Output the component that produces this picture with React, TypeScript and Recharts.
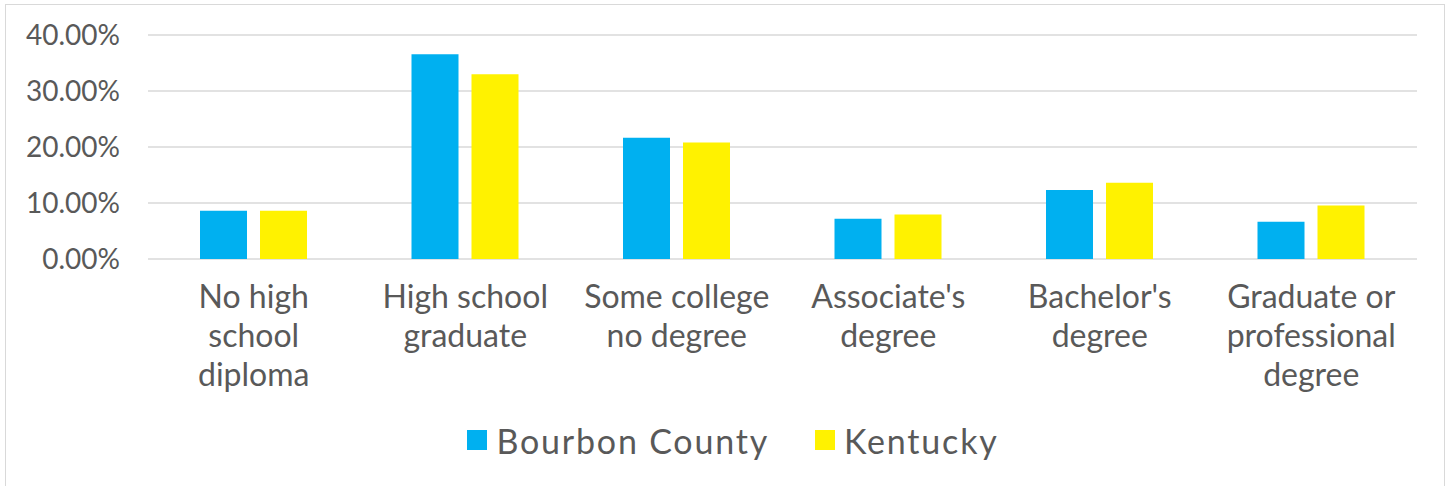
import { Bar, BarChart, CartesianGrid, Legend, XAxis, YAxis } from "recharts";

const categories = [
  "No high\nschool\ndiploma",
  "High school\ngraduate",
  "Some college\nno degree",
  "Associate's\ndegree",
  "Bachelor's\ndegree",
  "Graduate or\nprofessional\ndegree"
];
const bourbonCounty = [8.6, 36.55, 21.65, 7.2, 12.3, 6.65];
const kentucky = [8.6, 33.0, 20.8, 7.95, 13.6, 9.55];
const yTicks = [0, 10, 20, 30, 40];

const data = categories.map((name, idx) => ({
  name,
  bourbon: bourbonCounty[idx],
  kentucky: kentucky[idx]
}));

const FONT = "Lato, 'Open Sans', sans-serif";
const TEXT = "#595959";

function CategoryTick({ x, y, payload }: any) {
  const lines = String(payload.value).split("\n");
  return (
    <text x={x} y={y + 41} textAnchor="middle" fill={TEXT} fontSize={32} fontFamily={FONT}>
      {lines.map((line, i) => (
        <tspan key={i} x={x} dy={i === 0 ? 0 : 39}>
          {line}
        </tspan>
      ))}
    </text>
  );
}

function LegendContent({ payload }: any) {
  return (
    <div style={{ height: 40, display: "flex", justifyContent: "center", alignItems: "center", paddingLeft: 14 }}>
      {(payload || []).map((item: any, i: number) => (
        <div key={i} style={{ display: "flex", alignItems: "center", marginLeft: i === 0 ? 0 : 46 }}>
          <span style={{ width: 20, height: 20, background: item.color, display: "inline-block", marginRight: 9 }} />
          <span style={{ fontSize: 34, fontFamily: FONT, color: TEXT, letterSpacing: 1.8 }}>{item.value}</span>
        </div>
      ))}
    </div>
  );
}

export default function App() {
  return (
    <div style={{ position: "absolute", left: 0, top: 0, width: 1452, height: 486, overflow: "hidden", background: "#fff" }}>
      <div
        style={{
          position: "absolute",
          left: 5,
          top: 4,
          width: 1440,
          height: 520,
          border: "1.5px solid #d9d9d9",
          boxSizing: "border-box"
        }}
      />
      <BarChart
        width={1452}
        height={486}
        data={data}
        margin={{ top: 35, right: 35, bottom: 0, left: 0 }}
        barSize={47}
        barGap={13}
      >
        <CartesianGrid vertical={false} stroke="#d9d9d9" strokeWidth={1.3} />
        <XAxis
          dataKey="name"
          height={187}
          axisLine={false}
          tickLine={false}
          tickSize={6}
          tickMargin={2}
          interval={0}
          tick={<CategoryTick />}
        />
        <YAxis
          width={148}
          domain={[0, 40]}
          ticks={yTicks}
          axisLine={false}
          tickLine={false}
          tickSize={6}
          tickMargin={22}
          tickFormatter={(v) => `${Number(v).toFixed(2)}%`}
          tick={{ fill: TEXT, fontSize: 28, fontFamily: FONT }}
        />
        <Legend
          verticalAlign="bottom"
          wrapperStyle={{ top: 420, left: 0, width: 1452, boxSizing: "border-box" }}
          content={<LegendContent />}
        />
        <Bar dataKey="bourbon" name="Bourbon County" fill="#00b0f0" isAnimationActive={false} />
        <Bar dataKey="kentucky" name="Kentucky" fill="#fff200" isAnimationActive={false} />
      </BarChart>
    </div>
  );
}
